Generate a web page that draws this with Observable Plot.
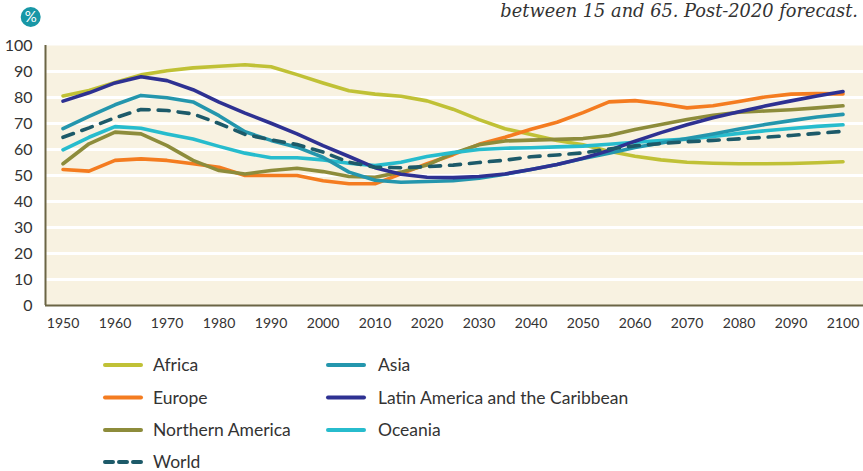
<!DOCTYPE html>
<html><head><meta charset="utf-8">
<script src="https://cdn.jsdelivr.net/npm/d3@7"></script>
<script src="https://cdn.jsdelivr.net/npm/@observablehq/plot@0.6"></script>
<style>
body{margin:0;background:#fff;font-family:Lato,sans-serif;}
#wrap{position:relative;width:863px;height:471px;overflow:hidden;background:#fff;}
#chart{position:absolute;left:0;top:0;}
#overlay{position:absolute;left:0;top:0;pointer-events:none;}
</style>
</head><body>
<div id="wrap"><div id="chart"></div><svg id="overlay" width="863" height="471"></svg></div>
<script>
const subtitle = "between 15 and 65. Post-2020 forecast.";
const unitLabel = "%";
const years = d3.range(1950, 2101, 5);
const xTicks = d3.range(1950, 2101, 10);
const yTicks = d3.range(0, 101, 10);

const africa   = [80.6,82.7,85.8,88.7,90.3,91.4,92.0,92.6,91.8,88.8,85.6,82.6,81.3,80.5,78.7,75.5,71.5,68.0,65.8,63.5,61.8,59.3,57.4,56.0,55.1,54.7,54.5,54.5,54.6,54.9,55.3];
const europe   = [52.3,51.7,55.8,56.4,55.8,54.5,53.2,50.0,50.0,50.0,48.0,46.8,46.8,50.6,54.5,58.0,62.0,64.7,67.8,70.5,74.2,78.3,78.8,77.6,76.0,76.8,78.5,80.2,81.3,81.5,81.4];
const northAm  = [54.5,62.2,66.7,66.0,61.5,55.8,51.9,50.6,51.9,52.8,51.5,49.6,49.3,51.3,54.0,58.5,61.8,63.3,63.6,63.9,64.2,65.4,67.7,69.6,71.5,73.2,74.3,74.8,75.3,76.0,76.8];
const oceania  = [59.9,64.7,68.8,68.2,66.0,64.0,61.2,58.6,56.8,56.8,56.0,54.7,53.8,55.1,57.3,58.8,60.0,60.5,60.7,61.0,61.3,62.0,62.8,63.4,64.0,65.0,66.2,67.2,68.1,68.9,69.5];
const asia     = [68.0,72.7,77.2,80.8,79.9,78.3,73.0,66.8,63.5,60.9,57.0,51.3,48.2,47.4,47.7,48.0,49.0,50.5,52.3,54.2,56.5,58.6,60.8,62.5,64.2,66.0,67.9,69.6,71.1,72.5,73.5];
const latinAm  = [78.6,81.8,85.6,88.0,86.5,83.0,78.2,74.0,70.1,66.0,61.5,57.3,53.0,50.5,49.3,49.2,49.6,50.6,52.3,54.2,56.6,59.6,63.2,66.5,69.5,72.2,74.5,76.7,78.7,80.6,82.3];
const world    = [64.7,68.3,72.2,75.4,75.0,73.7,70.0,65.8,63.7,61.9,59.0,55.1,53.2,53.0,53.4,54.0,55.0,55.9,57.2,57.9,58.7,60.2,61.4,62.3,63.0,63.5,64.1,64.7,65.4,66.2,67.0];

const names  = ["Africa","Europe","Northern America","Oceania","Asia","Latin America and the Caribbean","World"];
const values = [africa, europe, northAm, oceania, asia, latinAm, world];
const colors = ["#c0c136","#f47c20","#8d8c3b","#27bccd","#2496ad","#2e3192","#1d5a69"];

const rows = [];
names.forEach((n, k) => values[k].forEach((v, i) => rows.push({region: n, year: years[i], value: v})));

const xMin = 1946.63, xMax = 2103.94;
const axisColor = "#6b6545";

const chart = Plot.plot({
  width: 863, height: 340,
  marginLeft: 45, marginRight: 0, marginTop: 45, marginBottom: 35,
  x: {domain: [xMin, xMax]},
  y: {domain: [0, 100]},
  color: {domain: names, range: colors},
  style: {fontFamily: "Lato, sans-serif", color: "#333", background: "transparent"},
  marks: [
    Plot.frame({fill: "#f8f2e1", stroke: "none"}),
    Plot.ruleY(yTicks.filter(t => t > 0 && t < 100), {stroke: "#fff", strokeWidth: 3}),
    Plot.line(rows.filter(d => d.region !== "World"), {x: "year", y: "value", z: "region", stroke: "region", strokeWidth: 3.6, strokeLinejoin: "round", strokeLinecap: "round"}),
    Plot.line(rows.filter(d => d.region === "World"), {x: "year", y: "value", stroke: "region", strokeWidth: 3.6, strokeDasharray: "11,9", strokeLinecap: "round"}),
    Plot.ruleY([0], {stroke: axisColor, strokeWidth: 2}),
    Plot.ruleX([xMin], {stroke: axisColor, strokeWidth: 2}),
    Plot.axisY({ticks: yTicks, tickSize: 0, tickPadding: 13, fontSize: 16, label: null}),
    Plot.axisX({ticks: xTicks, tickSize: 0, tickPadding: 13, fontSize: 14, label: null, tickFormat: d => String(d)})
  ]
});
document.getElementById("chart").appendChild(chart);

// header + legend overlay
const ov = d3.select("#overlay");
ov.append("text").attr("x", 858).attr("y", 17).attr("text-anchor", "end")
  .attr("font-family", "'DejaVu Serif', serif").attr("font-style", "italic").attr("font-size", 17.8)
  .attr("fill", "#333").text(subtitle);
ov.append("circle").attr("cx", 30.7).attr("cy", 17).attr("r", 10).attr("fill", "#1897a6");
ov.append("text").attr("x", 30.7).attr("y", 17).attr("dy", "0.35em").attr("text-anchor", "middle")
  .attr("font-family", "Lato, sans-serif").attr("font-size", 15).attr("fill", "#fff").text(unitLabel);

const legendOrder = ["Africa","Asia","Europe","Latin America and the Caribbean","Northern America","Oceania","World"];
const rowY = [365, 397.5, 430, 462];
legendOrder.forEach((n, i) => {
  const col = i % 2, row = Math.floor(i / 2);
  const sx = col === 0 ? 103 : 326;
  const tx = col === 0 ? 153 : 378;
  const y = rowY[row];
  const c = colors[names.indexOf(n)];
  ov.append("line").attr("x1", sx + 2).attr("x2", sx + 38).attr("y1", y).attr("y2", y)
    .attr("stroke", c).attr("stroke-width", 4).attr("stroke-linecap", "round")
    .attr("stroke-dasharray", n === "World" ? "8,6" : null);
  ov.append("text").attr("x", tx).attr("y", y).attr("dy", "0.35em")
    .attr("font-family", "Lato, sans-serif").attr("font-size", 17.5).attr("fill", "#333").text(n);
});
</script>
</body></html>
